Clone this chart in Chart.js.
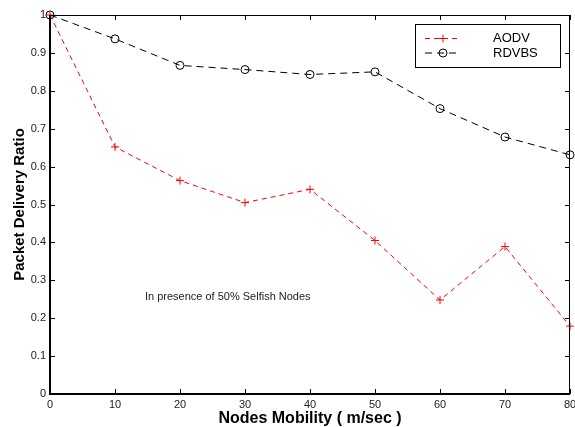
<!DOCTYPE html>
<html><head><meta charset="utf-8">
<script src="https://cdn.jsdelivr.net/npm/chart.js@4"></script>
<style>html,body{margin:0;padding:0;background:#fff;}canvas{display:block;}</style>
</head><body>
<canvas id="c" width="575" height="427" style="width:575px;height:427px"></canvas>
<script>
const mobility = [0, 10, 20, 30, 40, 50, 60, 70, 80];
const aodv = [1.0, 0.652, 0.563, 0.505, 0.540, 0.405, 0.248, 0.389, 0.179];
const rdvbs = [1.0, 0.937, 0.867, 0.856, 0.843, 0.850, 0.753, 0.678, 0.631];
const seriesNames = ['AODV', 'RDVBS'];
const xTickLabels = ['0', '10', '20', '30', '40', '50', '60', '70', '80'];
const yTickLabels = ['0', '0.1', '0.2', '0.3', '0.4', '0.5', '0.6', '0.7', '0.8', '0.9', '1'];
const xTitle = 'Nodes Mobility ( m/sec )';
const yTitle = 'Packet Delivery Ratio';
const annotationText = 'In presence of 50% Selfish Nodes';
const annotationAt = {x: 14.6, y: 0.256};

const FONT = "'Liberation Sans', Arial, Helvetica, sans-serif";

const framePlugin = {
  id: 'frame',
  afterDraw(chart) {
    const ctx = chart.ctx;
    const {left, right, top, bottom} = chart.chartArea;
    const xs = chart.scales.x, ys = chart.scales.y;
    ctx.save();
    ctx.strokeStyle = '#000';
    ctx.lineWidth = 1;
    ctx.beginPath();
    ctx.moveTo(left, top + 0.5); ctx.lineTo(right, top + 0.5);
    ctx.moveTo(right - 0.5, top); ctx.lineTo(right - 0.5, bottom);
    ctx.stroke();
    ctx.lineWidth = 2;
    ctx.beginPath();
    ctx.moveTo(left, top); ctx.lineTo(left, bottom);
    ctx.moveTo(left - 1, bottom); ctx.lineTo(right, bottom);
    ctx.stroke();
    ctx.lineWidth = 1;
    ctx.beginPath();
    xs.ticks.forEach(t => {
      const px = Math.round(xs.getPixelForValue(t.value)) + 0.5;
      ctx.moveTo(px, bottom); ctx.lineTo(px, bottom - 5);
      ctx.moveTo(px, top); ctx.lineTo(px, top + 5);
    });
    ys.ticks.forEach(t => {
      const py = Math.round(ys.getPixelForValue(t.value)) + 0.5;
      ctx.moveTo(left, py); ctx.lineTo(left + 5, py);
      ctx.moveTo(right, py); ctx.lineTo(right - 5, py);
    });
    ctx.stroke();

    ctx.fillStyle = '#222';
    ctx.font = '11px ' + FONT;
    ctx.textAlign = 'left';
    ctx.textBaseline = 'middle';
    ctx.fillText(annotationText, xs.getPixelForValue(annotationAt.x), ys.getPixelForValue(annotationAt.y));

    const bx = 415, by = 24, bw = 145, bh = 43;
    ctx.fillStyle = '#fff';
    ctx.fillRect(bx, by, bw, bh);
    ctx.strokeStyle = '#000';
    ctx.lineWidth = 1;
    ctx.strokeRect(bx + 0.5, by + 0.5, bw, bh);
    const rowY = [38.5, 53];
    chart.data.datasets.forEach((ds, i) => {
      const y = rowY[i];
      ctx.strokeStyle = ds.borderColor;
      ctx.lineWidth = 1;
      ctx.setLineDash(ds.borderDash);
      ctx.beginPath();
      ctx.moveTo(425, y); ctx.lineTo(461, y);
      ctx.stroke();
      ctx.setLineDash([]);
      const cx = 443;
      ctx.beginPath();
      if (ds.pointStyle === 'cross') {
        ctx.moveTo(cx - 4, y); ctx.lineTo(cx + 4, y);
        ctx.moveTo(cx, y - 4); ctx.lineTo(cx, y + 4);
      } else {
        ctx.arc(cx, y, 4, 0, Math.PI * 2);
      }
      ctx.stroke();
      ctx.fillStyle = '#000';
      ctx.font = '13px ' + FONT;
      ctx.textAlign = 'left';
      ctx.textBaseline = 'middle';
      ctx.fillText(ds.label, 493, y);
    });
    ctx.restore();
  }
};

new Chart(document.getElementById('c'), {
  type: 'line',
  data: {
    datasets: [
      {
        label: seriesNames[0],
        data: mobility.map((m, i) => ({x: m, y: aodv[i]})),
        borderColor: '#ff0000',
        borderWidth: 1,
        borderDash: [5, 4],
        pointStyle: 'cross',
        pointRadius: 4,
        pointBorderColor: '#ff0000',
        pointBorderWidth: 1,
        pointBackgroundColor: '#ff0000',
        fill: false,
        tension: 0,
        clip: false
      },
      {
        label: seriesNames[1],
        data: mobility.map((m, i) => ({x: m, y: rdvbs[i]})),
        borderColor: '#000000',
        borderWidth: 1,
        borderDash: [7, 5],
        pointStyle: 'circle',
        pointRadius: 4,
        pointBorderColor: '#000000',
        pointBorderWidth: 1,
        pointBackgroundColor: 'rgba(0,0,0,0)',
        fill: false,
        tension: 0,
        clip: false
      }
    ]
  },
  options: {
    responsive: false,
    animation: false,
    devicePixelRatio: 1,
    layout: {padding: {top: 15, right: 3, left: 0, bottom: 0}},
    plugins: {legend: {display: false}, tooltip: {enabled: false}},
    scales: {
      x: {
        type: 'linear', min: 0, max: 80,
        grid: {display: false, drawTicks: false},
        border: {display: false},
        ticks: {
          stepSize: 10, padding: 4, color: '#222', maxRotation: 0, autoSkip: false,
          font: {size: 11, family: FONT},
          callback: (v, i) => xTickLabels[i]
        },
        title: {display: true, text: xTitle, color: '#000', font: {size: 16, weight: 'bold', family: FONT, lineHeight: 1}, padding: {top: 0, bottom: 0}},
        afterFit: s => { s.height = 33; s.paddingLeft = 0; s.paddingRight = 0; }
      },
      y: {
        type: 'linear', min: 0, max: 1,
        grid: {display: false, drawTicks: false},
        border: {display: false},
        ticks: {
          stepSize: 0.1, padding: 4, color: '#222', autoSkip: false,
          font: {size: 11, family: FONT},
          callback: (v, i) => yTickLabels[i]
        },
        title: {display: true, text: yTitle, color: '#000', font: {size: 15, weight: 'bold', family: FONT}, padding: {top: 11, bottom: 0}},
        afterFit: s => { s.width = 50; s.paddingTop = 0; s.paddingBottom = 0; }
      }
    }
  },
  plugins: [framePlugin]
});
</script>
</body></html>
